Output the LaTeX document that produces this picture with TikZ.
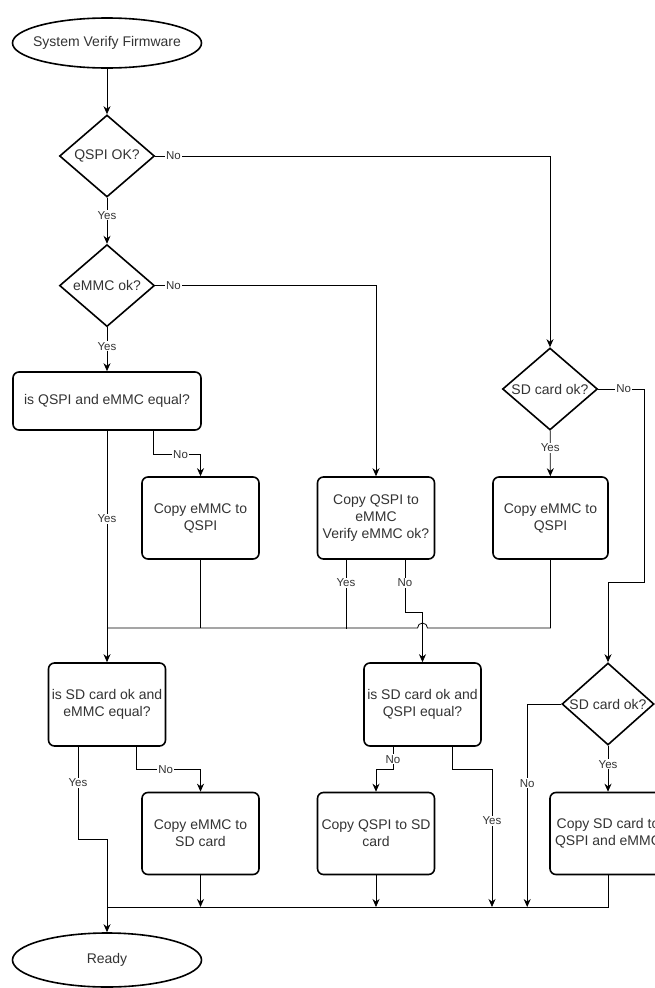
\documentclass[tikz,border=0pt]{standalone}
\usepackage{fontspec}
\setmainfont{Liberation Sans}
\usetikzlibrary{arrows.meta, positioning, shapes.geometric, calc}

\newcommand{\slim}[1]{\makebox[0pt]{#1}}

\begin{document}
\begin{tikzpicture}[
    x=1pt, y=-1pt,
    every node/.style={font=\fontsize{14}{17}\selectfont, text=black!80},
    term/.style={draw=black, ellipse, line width=1.6pt, minimum width=189pt, minimum height=50pt, inner sep=0pt},
    decision/.style={draw=black, diamond, line width=1.6pt, minimum width=95pt, minimum height=82pt, inner sep=0pt},
    proc/.style={draw=black, rounded corners=6pt, line width=1.6pt, minimum width=117pt, minimum height=82pt, align=center, inner sep=1pt},
    lbl/.style={fill=white, inner sep=1pt, font=\fontsize{11.5}{13}\selectfont},
    arrow/.style={-{Stealth[length=8pt, width=7pt]}, line width=0.8pt},
    link/.style={line width=0.8pt}
]
\clip (0,0) rectangle (655,988);

% Start and checks
\node[term] (start) at (107,43) {\slim{System Verify Firmware}};
\node[decision] (qspiok) at (107,156) {\slim{QSPI OK?}};
\node[decision, below=46pt of qspiok] (emmcok) {\slim{eMMC ok?}};
\node[decision] (sdok) at (550,389) {\slim{SD card ok?}};

% Compare and copy
\node[proc, minimum width=188pt, minimum height=58pt] (qeeq) at (107,401) {is QSPI and eMMC equal?};
\node[proc] (cpq) at (200.5,518) {Copy eMMC to\\QSPI};
\node[proc] (cqe) at (376,518) {Copy QSPI to\\eMMC\\Verify eMMC ok?};
\node[proc, minimum width=115pt] (cpq2) at (550.5,518) {Copy eMMC to\\QSPI};

% Second stage
\node[proc, minimum height=83pt] (sdeeq) at (107,704.5) {is SD card ok and\\eMMC equal?};
\node[proc, minimum height=83pt] (sdqeq) at (422.5,704.5) {is SD card ok and\\QSPI equal?};
\node[decision, minimum width=92pt] (sdok2) at (608,704) {\slim{SD card ok?}};
\node[proc] (cesd) at (200.5,833.5) {Copy eMMC to\\SD card};
\node[proc] (cqsd) at (376,833.5) {Copy QSPI to SD\\card};
\node[proc, minimum width=116pt] (csd) at (608,833.5) {Copy SD card to\\QSPI and eMMC};

\node[term, minimum height=54pt] (ready) at (107,960) {Ready};

% Bus lines
\coordinate (bus1) at (107,628);
\coordinate (hop) at (sdqeq.north |- bus1);
\coordinate (bus2) at (107,907);

% Top part
\draw[arrow] (start) -- (qspiok);
\draw[arrow] (qspiok) -- node[lbl, pos=0.38]{Yes} (emmcok);
\draw[arrow] (qspiok.east) -| node[lbl, pos=0.023]{No} (sdok.north);
\draw[arrow] (emmcok) -- node[lbl, pos=0.43]{Yes} (qeeq);
\draw[arrow] (emmcok.east) -| node[lbl, pos=0.041]{No} (cqe.north);

% QSPI / eMMC compare
\draw[arrow] (qeeq.south) -- node[lbl, pos=0.38]{Yes} (sdeeq.north);
\draw[arrow] ($(qeeq.south)+(46,0)$) -- ++(0,24) -| node[lbl, pos=0.29]{No} (cpq.north);
\draw[link] (cpq.south) -- (cpq.south |- bus1);
\draw[link] ($(cqe.south)+(-30,0)$) -- node[lbl, pos=0.33]{Yes} ++(0,69);
\draw[arrow] ($(cqe.south)+(29,0)$) -- node[lbl, pos=0.43]{No} ++(0,53) -| (sdqeq.north);
\draw[link] (cpq2.south) |- ($(hop)+(5,0)$) arc[start angle=0, end angle=180, radius=5pt] -- (bus1);

% SD card branch
\draw[arrow] (sdok) -- node[lbl, pos=0.38]{Yes} (cpq2);
\draw[arrow] (sdok.east) -- node[lbl, pos=0.55]{No} ++(46,0) -- ++(0,193) -| (sdok2.north);
\draw[arrow] (sdok2) -- node[lbl, pos=0.4]{Yes} (csd);
\draw[arrow] (sdok2.west) -- ++(-34,0) coordinate (n4) -- node[lbl, pos=0.39]{No} (n4 |- bus2);

% SD card compare
\draw[arrow] ($(sdeeq.south)+(-29,0)$) -- node[lbl, pos=0.39]{Yes} ++(0,93) -| (ready.north);
\draw[arrow] ($(sdeeq.south)+(29,0)$) -- ++(0,23) -| node[lbl, pos=0.23]{No} (cesd.north);
\draw[arrow] (cesd.south) -- (cesd.south |- bus2);
\draw[arrow] ($(sdqeq.south)+(-29.5,0)$) -- node[lbl, pos=0.55]{No} ++(0,23) -| (cqsd.north);
\draw[arrow] ($(sdqeq.south)+(29.5,0)$) -- ++(0,23) -- ++(40,0) coordinate (y5) -- node[lbl, pos=0.37]{Yes} (y5 |- bus2);
\draw[arrow] (cqsd.south) -- (cqsd.south |- bus2);
\draw[link] (csd.south) |- (bus2);

\end{tikzpicture}
\end{document}
